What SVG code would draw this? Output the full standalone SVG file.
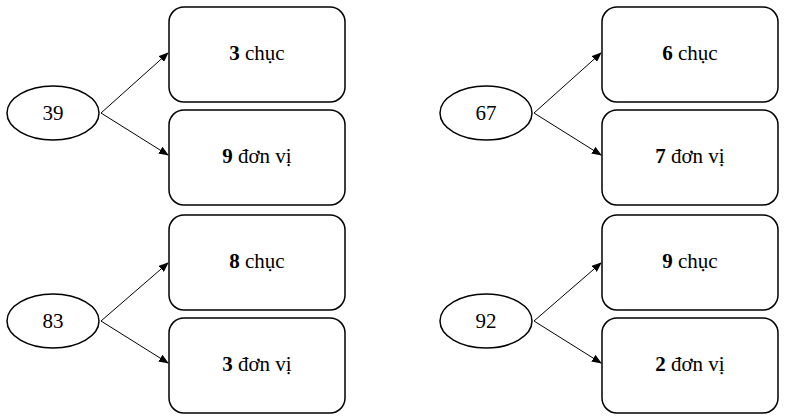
<svg xmlns="http://www.w3.org/2000/svg" width="809" height="418" viewBox="0 0 809 418" font-family="'Liberation Serif', 'DejaVu Serif', serif">
<style>
.b{fill:#fff;stroke:#000;stroke-width:1.5}
text{font-family:'Liberation Serif','DejaVu Serif',serif;font-size:21px;text-anchor:middle;fill:#000}
.c line{stroke:#000;stroke-width:1}
</style>
<defs><marker id="a" markerWidth="10" markerHeight="8" refX="9" refY="4" orient="auto" markerUnits="userSpaceOnUse"><path d="M0,0L10,4L0,8z"/></marker></defs>
<rect width="809" height="418" fill="#fff"/>
<g id="n39"><ellipse class="b" cx="53" cy="113" rx="46" ry="27"/><text x="53" y="120">39</text></g>
<g id="n39c"><rect class="b" x="169" y="7" width="176" height="95" rx="15"/><text x="257" y="60"><tspan font-weight="bold">3</tspan> chục</text></g>
<g id="n39d"><rect class="b" x="169" y="110" width="176" height="95" rx="15"/><text x="257" y="163"><tspan font-weight="bold">9</tspan> đơn vị</text></g>
<g id="n67"><ellipse class="b" cx="486" cy="113" rx="46" ry="27"/><text x="486" y="120">67</text></g>
<g id="n67c"><rect class="b" x="602" y="7" width="176" height="95" rx="15"/><text x="690" y="60"><tspan font-weight="bold">6</tspan> chục</text></g>
<g id="n67d"><rect class="b" x="602" y="110" width="176" height="95" rx="15"/><text x="690" y="163"><tspan font-weight="bold">7</tspan> đơn vị</text></g>
<g id="n83"><ellipse class="b" cx="53" cy="321" rx="46" ry="27"/><text x="53" y="328">83</text></g>
<g id="n83c"><rect class="b" x="169" y="215" width="176" height="95" rx="15"/><text x="257" y="268"><tspan font-weight="bold">8</tspan> chục</text></g>
<g id="n83d"><rect class="b" x="169" y="318" width="176" height="95" rx="15"/><text x="257" y="371"><tspan font-weight="bold">3</tspan> đơn vị</text></g>
<g id="n92"><ellipse class="b" cx="486" cy="321" rx="46" ry="27"/><text x="486" y="328">92</text></g>
<g id="n92c"><rect class="b" x="602" y="215" width="176" height="95" rx="15"/><text x="690" y="268"><tspan font-weight="bold">9</tspan> chục</text></g>
<g id="n92d"><rect class="b" x="602" y="318" width="176" height="95" rx="15"/><text x="690" y="371"><tspan font-weight="bold">2</tspan> đơn vị</text></g>
<g class="c">
<line x1="101" y1="113" x2="168" y2="53" marker-end="url(#a)"/>
<line x1="101" y1="113" x2="168" y2="155" marker-end="url(#a)"/>
<line x1="534" y1="113" x2="601" y2="53" marker-end="url(#a)"/>
<line x1="534" y1="113" x2="601" y2="155" marker-end="url(#a)"/>
<line x1="101" y1="321" x2="168" y2="263" marker-end="url(#a)"/>
<line x1="101" y1="321" x2="168" y2="363" marker-end="url(#a)"/>
<line x1="534" y1="321" x2="601" y2="263" marker-end="url(#a)"/>
<line x1="534" y1="321" x2="601" y2="363" marker-end="url(#a)"/>
</g>
</svg>
